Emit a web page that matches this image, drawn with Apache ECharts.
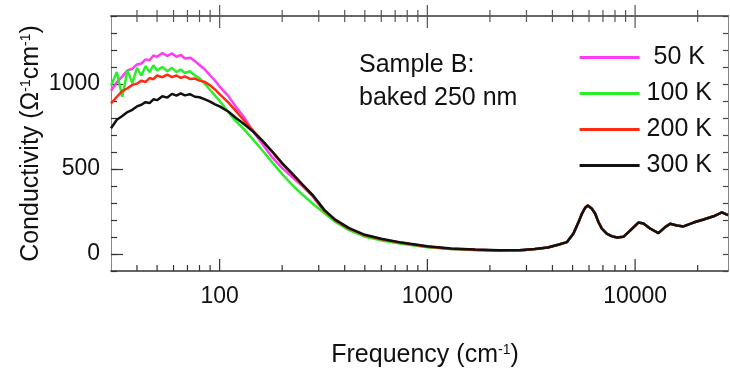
<!DOCTYPE html>
<html>
<head>
<meta charset="utf-8">
<script src="https://cdn.jsdelivr.net/npm/echarts@6/dist/echarts.min.js"></script>
<style>
html,body{margin:0;padding:0;background:#fff;}
#chart{width:730px;height:374px;}
</style>
</head>
<body>
<div id="chart"></div>
<script>
// Frequency grid (cm^-1)
const freq = [30,32,34,36,38,40,42,44,46,48,50,53,56,59,62,65,68,72,76,80,85,90,95,100,110,120,130,145,160,180,200,225,250,280,320,360,420,500,600,750,1000,1300,1700,2200,2800,3300,3800,4300,4700,5050,5350,5550,5750,5920,6180,6420,6660,6910,7300,7700,8170,8780,9460,10370,10970,11810,12950,13950,14750,15890,17090,19100,21350,23850,26170,28000];

// Conductivity (Ohm^-1 cm^-1)
const sigma50K  = [960,1010,1045,1080,1090,1115,1120,1145,1140,1168,1160,1182,1165,1180,1160,1172,1150,1155,1135,1112,1085,1050,1020,985,930,865,810,720,650,565,505,450,400,340,248,196,146,106,83,63,42,30,24,19,20,30,38,56,70,120,190,238,272,285,268,238,188,150,120,105,97,101,138,185,180,150,123,158,178,168,162,185,203,222,245,228];
const sigma100K = [990,1070,925,1080,1005,1095,1050,1105,1070,1110,1080,1100,1075,1095,1070,1085,1065,1075,1050,1035,1000,965,932,900,835,780,737,673,612,536,470,403,350,297,240,190,140,102,80,60,40,29,23,19,20,30,38,56,70,120,190,238,272,285,268,238,188,150,120,105,97,101,138,185,180,150,123,158,178,168,162,185,203,222,245,228];
const sigma200K = [885,925,958,975,995,1002,1020,1012,1035,1028,1050,1040,1055,1040,1050,1036,1045,1030,1032,1020,1012,992,968,940,892,840,790,725,668,598,530,465,408,344,252,198,149,110,87,66,43,31,25,21,21,30,38,56,70,120,190,238,272,285,268,238,188,150,120,105,97,101,138,185,180,150,123,158,178,168,162,185,203,222,245,228];
const sigma300K = [740,790,812,835,848,868,878,893,888,910,905,928,920,942,932,945,933,940,925,922,910,896,880,868,838,800,768,720,668,600,535,470,410,348,258,202,152,113,90,67,45,33,27,22,23,30,38,56,70,120,190,238,272,285,268,238,188,150,120,105,97,101,138,185,180,150,123,158,178,168,162,185,203,222,245,228];

const seriesNames = [' 50 K', '100 K', '200 K', '300 K'];
const seriesColors = ['#ff3cf5', '#2aee2a', '#ff2a12', '#111111'];

// Axis ticks
const xMajorTicks = [100, 1000, 10000];
const xMinorTicks = [40,50,60,70,80,90,200,300,400,500,600,700,800,900,2000,3000,4000,5000,6000,7000,8000,9000,20000];
const yLabelValues = [0, 500, 1000];

const FONT = 'Liberation Sans, Arial, Helvetica, sans-serif';

const chart = echarts.init(document.getElementById('chart'), null, {renderer: 'canvas'});

const seriesValues = [sigma50K, sigma100K, sigma200K, sigma300K];
const lineSeries = seriesValues.map((vals, i) => ({
  name: seriesNames[i],
  type: 'line',
  xAxisIndex: 0,
  yAxisIndex: 0,
  symbol: 'none',
  data: freq.map((f, j) => [f, vals[j]]),
  lineStyle: {color: seriesColors[i], width: 2.5},
  itemStyle: {color: seriesColors[i]},
  z: 2 + i,
  clip: true
}));

const tickData = xMajorTicks.map(v => [v, 1]).concat(xMinorTicks.map(v => [v, 0]));

const tickSeries = {
  type: 'custom',
  xAxisIndex: 0,
  yAxisIndex: 0,
  clip: false,
  silent: true,
  z: 10,
  data: tickData,
  renderItem: function (params, api) {
    const v = api.value(0);
    const major = api.value(1) === 1;
    const x = api.coord([v, 0])[0];
    const cs = params.coordSys;
    const yb = cs.y + cs.height;
    const yt = cs.y;
    const len = major ? 12 : 6;
    return {
      type: 'group',
      children: [
        {type: 'line', shape: {x1: x, y1: yb, x2: x, y2: yb - len}, style: {stroke: '#333', lineWidth: 1.2}},
        {type: 'line', shape: {x1: x, y1: yt - (major ? 11 : 6), x2: x, y2: yt + len}, style: {stroke: '#555', lineWidth: 1.2}}
      ]
    };
  }
};

const nameRich = {sup: {fontSize: 14, verticalAlign: 'top', fontFamily: FONT, color: '#111'}};

const option = {
  animation: false,
  backgroundColor: '#fff',
  textStyle: {fontFamily: FONT},
  grid: {left: 111, top: 16, right: 2, bottom: 103, containLabel: false},
  legend: {
    data: seriesNames,
    orient: 'vertical',
    left: 573,
    top: 40,
    itemWidth: 60,
    itemHeight: 22,
    itemGap: 11,
    lineStyle: {width: 3.2},
    itemStyle: {color: 'rgba(0,0,0,0)', borderWidth: 0, opacity: 0},
    textStyle: {fontSize: 25, color: '#111', fontFamily: FONT, padding: [0, 0, 0, 2]}
  },
  xAxis: [
    {
      type: 'log',
      logBase: 10,
      min: 30,
      max: 28000,
      position: 'bottom',
      axisLine: {show: true, onZero: false, lineStyle: {color: '#333', width: 1.5}},
      axisTick: {show: false},
      splitLine: {show: false},
      minorTick: {show: false},
      axisLabel: {
        fontSize: 23, color: '#111', fontFamily: FONT, margin: 14,
        showMinLabel: false, showMaxLabel: false,
        formatter: v => String(Math.round(v))
      },
      name: 'Frequency (cm{sup|-1})',
      nameLocation: 'middle',
      nameGap: 72,
      nameMoveOverlap: false,
      nameTextStyle: {fontSize: 25, color: '#111', fontFamily: FONT, padding: [0, 0, 0, 11], rich: nameRich}
    },
    {
      type: 'log',
      logBase: 10,
      min: 30,
      max: 28000,
      position: 'top',
      axisLine: {show: true, onZero: false, lineStyle: {color: '#666', width: 2}},
      axisTick: {show: false},
      axisLabel: {show: false},
      splitLine: {show: false}
    }
  ],
  yAxis: [
    {
      type: 'value',
      min: -100,
      max: 1400,
      position: 'left',
      axisLine: {show: true, onZero: false, lineStyle: {color: '#888', width: 1}},
      axisTick: {show: true, inside: true, length: 12, customValues: yLabelValues, lineStyle: {color: '#333', width: 1.2}},
      axisLabel: {customValues: yLabelValues, fontSize: 23, color: '#111', fontFamily: FONT, margin: 11, formatter: v => String(v)},
      splitLine: {show: false},
      name: 'Conductivity (Ω{sup|-1}cm{sup|-1})',
      nameLocation: 'middle',
      nameRotate: 90,
      nameGap: 67,
      nameMoveOverlap: false,
      nameTextStyle: {fontSize: 25, color: '#111', fontFamily: FONT, rich: nameRich}
    },
    {
      type: 'value',
      min: -100,
      max: 1400,
      interval: 100,
      position: 'left',
      axisLine: {show: false, onZero: false},
      axisTick: {show: true, inside: true, length: 6, lineStyle: {color: '#333', width: 1.2}},
      axisLabel: {show: false},
      splitLine: {show: false}
    },
    {
      type: 'value',
      min: -100,
      max: 1400,
      interval: 100,
      position: 'right',
      axisLine: {show: true, onZero: false, lineStyle: {color: '#888', width: 1}},
      axisTick: {show: true, inside: true, length: 5, lineStyle: {color: '#444', width: 1.2}},
      axisLabel: {show: false},
      splitLine: {show: false}
    }
  ],
  graphic: [
    {type: 'text', left: 359, top: 53, style: {text: 'Sample B:', fontSize: 25, fill: '#111', fontFamily: FONT}},
    {type: 'text', left: 359, top: 86, style: {text: 'baked 250 nm', fontSize: 25, fill: '#111', fontFamily: FONT}}
  ],
  series: lineSeries.concat([tickSeries])
};

chart.setOption(option);
</script>
</body>
</html>
